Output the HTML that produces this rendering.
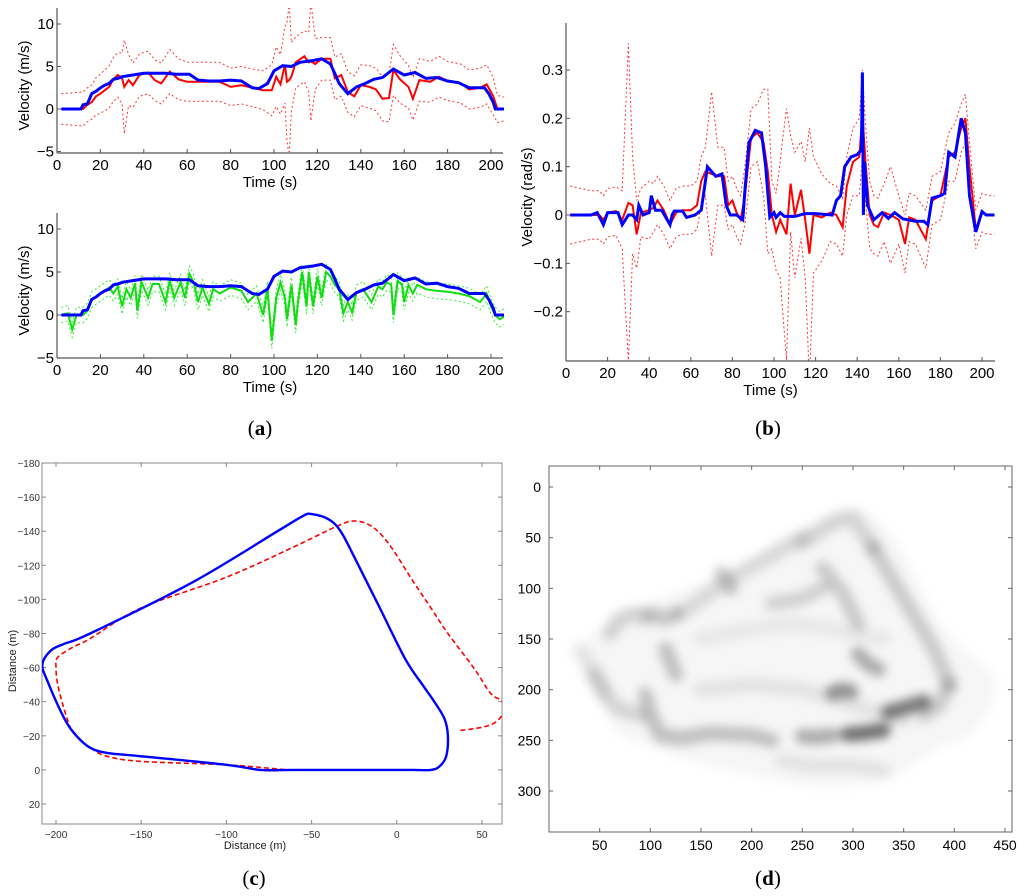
<!DOCTYPE html>
<html><head><meta charset="utf-8">
<style>
body{margin:0;background:#fff;}
svg{display:block;font-family:"Liberation Sans",sans-serif;}
.cap{font-family:"Liberation Serif",serif;font-size:21px;}
</style></head>
<body>
<svg id="fig" width="1024" height="896" viewBox="0 0 1024 896" xmlns="http://www.w3.org/2000/svg">
<defs>
<filter id="blur" x="-20%" y="-20%" width="140%" height="140%"><feGaussianBlur stdDeviation="5"/></filter>
<clipPath id="clipA1"><rect x="57" y="8" width="447" height="144"/></clipPath>
<clipPath id="clipA2"><rect x="57" y="213" width="447" height="145"/></clipPath>
<clipPath id="clipB"><rect x="566" y="23" width="430" height="338"/></clipPath>
<clipPath id="clipC"><rect x="42" y="463" width="460" height="361"/></clipPath>
<clipPath id="clipD"><rect x="549" y="466" width="463" height="366"/></clipPath>
</defs>
<g id="root"></g>
<text class="cap" x="260" y="435" text-anchor="middle">(<tspan font-weight="bold">a</tspan>)</text>
<text class="cap" x="768" y="435" text-anchor="middle">(<tspan font-weight="bold">b</tspan>)</text>
<text class="cap" x="254" y="885" text-anchor="middle">(<tspan font-weight="bold">c</tspan>)</text>
<text class="cap" x="768" y="885" text-anchor="middle">(<tspan font-weight="bold">d</tspan>)</text>
</svg>
<script>
// ---------- Panel (a) top: speed estimate vs ground truth ----------
const aTopTime = [2,12,14,16,18,20,22,24,26,28,30,31,33,35,38,42,45,48,52,56,60,65,70,75,80,85,90,95,99,101,103,105,106,107,108,110,114,116,117,119,122,126,128,131,134,137,140,144,147,150,153,155,158,162,164,167,172,176,180,186,190,195,198,201,203,206];
const aTopRed  = [0,0,0.5,0.8,1.5,1.8,2.2,2.6,3.5,4.0,3.6,2.6,3.4,2.8,4.0,4.3,3.4,3.0,4.4,3.5,3.2,3.2,3.2,3.2,2.6,2.8,2.5,2.2,2.2,3.8,2.9,5.2,3.2,3.4,3.8,5.5,6.2,5.5,5.6,5.3,5.9,5.9,3.6,4.0,2.0,1.5,2.8,2.6,2.3,1.2,1.3,4.6,3.5,2.6,1.2,3.4,3.2,3.8,3.3,3.0,2.3,2.5,2.9,1.5,0,0];
const aTopSigma= [1.8,2.0,2.0,2.0,2.2,2.3,2.4,2.5,2.6,2.6,3.0,5.5,3.0,2.6,2.5,2.5,2.4,2.4,2.6,2.4,2.3,2.3,2.3,2.3,2.2,2.2,2.2,2.3,3.0,3.5,3.5,4.5,7.0,9.0,4.0,3.0,3.0,3.5,7.0,3.0,2.5,2.5,2.5,2.5,2.4,2.4,2.4,2.5,2.5,2.6,2.8,3.0,2.8,2.5,2.5,2.5,2.4,2.4,2.3,2.3,2.3,2.3,2.3,2.2,1.6,1.4];
const blueTime = [2,11,12,14,16,18,20,22,24,26,28,30,35,40,50,55,61,65,70,75,80,85,88,90,93,97,100,104,108,112,118,122,126,128,130,134,138,142,146,150,155,160,165,170,175,180,185,190,197,199,201,202,206];
const blueVel  = [0,0,0.5,0.6,1.8,2.1,2.5,2.8,3.0,3.5,3.6,3.8,4.0,4.2,4.2,4.1,4.1,3.4,3.3,3.3,3.4,3.3,2.8,2.5,2.4,3.0,4.5,5.1,5.0,5.5,5.7,5.9,5.3,4.2,3.0,1.8,2.6,3.0,3.5,3.7,4.7,4.0,4.3,3.6,3.7,3.3,3.1,2.5,2.5,1.8,0.8,0,0];
// ---------- Panel (a) bottom ----------
const aBotTime = [2,5,7,9,12,14,16,20,24,26,28,30,32,34,36,37,39,42,44,47,50,52,54,57,59,61,63,65,67,70,72,75,80,85,88,92,95,97,99,101,103,105,106,108,110,111,113,115,116,118,120,122,124,126,128,130,132,134,136,138,141,145,148,150,152,154,155,157,159,160,162,164,166,170,175,180,185,190,195,198,200,202,204,206];
const aBotGreen= [0,0.2,-1.7,0,0,0.5,1.8,2.5,3.2,2.5,3.3,1.0,3.0,2.0,3.7,0.5,3.8,2.0,3.6,3.6,1.5,4.0,2.0,3.8,2.0,4.8,3.8,1.5,3.2,1.3,3.0,2.5,3.2,2.8,1.5,2.5,0,3.0,-3.0,2.0,3.8,2.0,-0.5,3.5,-1.2,1.5,5.0,1.0,5.0,1.0,4.5,2.0,5.0,4.5,3.5,3.0,0.2,1.5,0.3,2.6,3.0,1.5,3.3,3.0,3.8,3.5,0,4.0,3.5,1.5,3.5,2.5,3.5,3.0,2.8,2.7,2.5,2.2,1.5,2.5,1.0,0,-0.5,-0.2];
const aBotSigma= 0.9;
// ---------- Panel (b): angular velocity ----------
const bBlueTime = [2,12,15,18,20,25,27,30,32,34,35,37,40,41,43,46,50,51,52,56,58,62,65,67,68,70,72,75,77,79,82,85,86,88,91,94,96,98,100,101,103,105,110,115,120,128,130,132,134,137,140,142,142.5,143,143.5,145,148,152,155,158,162,168,172,174,176,180,182,184,187,190,192,194,197,200,202,206];
const bBlue = [0,0,0.005,-0.02,0.005,0.005,-0.02,0,0,-0.01,0.02,0,0.005,0.04,0.01,0.01,-0.02,0,0.008,0.008,-0.005,0,0.01,0.07,0.1,0.09,0.08,0.085,0.02,0,0,-0.01,0.05,0.15,0.175,0.17,0.1,-0.005,0.005,-0.005,0.005,-0.003,-0.003,0.003,0.003,0,0.03,0.04,0.1,0.12,0.125,0.135,0.295,0,0.11,0.02,-0.01,0.005,-0.007,0.005,-0.008,-0.013,-0.013,-0.02,0.035,0.04,0.045,0.13,0.12,0.2,0.17,0.04,-0.035,0.007,0,0];
const bRedTime = [2,12,16,18,20,24,27,30,32,34,36,40,42,44,47,50,53,56,60,63,65,67,70,73,76,78,80,82,84,86,89,92,95,97,99,101,103,104,106,108,110,113,115,117,119,123,127,130,133,135,138,141,142.5,144,146,148,150,153,156,160,163,165,168,173,176,180,184,187,190,192,194,197,200,203,206];
const bRed = [0,0,0,-0.01,0.005,0.008,-0.01,0.025,0.02,-0.04,0.005,0.01,0.015,0.03,0.01,-0.02,0.005,0.01,0.01,0.02,0.07,0.09,0.085,0.08,0.08,0.02,0.03,0.005,-0.01,0.04,0.16,0.17,0.15,0.09,0,-0.035,-0.01,-0.02,-0.04,0.065,0,0.052,-0.01,-0.08,0,-0.005,0.005,0,-0.025,0.06,0.11,0.12,0.21,0.11,0,-0.02,-0.025,0.005,0,-0.01,-0.06,-0.005,-0.01,-0.05,0.03,0.04,0.12,0.13,0.18,0.2,0.1,-0.03,0.005,0,0];
const bSigma = [0.06,0.05,0.05,0.05,0.05,0.05,0.06,0.33,0.1,0.07,0.05,0.06,0.05,0.05,0.05,0.05,0.05,0.05,0.05,0.05,0.05,0.05,0.17,0.06,0.06,0.05,0.05,0.05,0.05,0.06,0.06,0.06,0.11,0.17,0.07,0.08,0.12,0.17,0.26,0.1,0.13,0.1,0.12,0.26,0.12,0.09,0.06,0.06,0.06,0.06,0.07,0.08,0.09,0.08,0.07,0.06,0.06,0.06,0.1,0.05,0.06,0.05,0.05,0.06,0.05,0.05,0.05,0.06,0.05,0.05,0.05,0.04,0.04,0.04,0.04];
// ---------- Panel (c): trajectories (x,y) in metres ----------
const cBlueX = [0,10,20,25,29,30,28,22,15,5,-10,-25,-33,-40,-50,-55,-70,-120,-180,-195,-203,-208,-205,-195,-188,-180,-170,-150,-100,-80,-60,-20,0];
const cBlueY = [0,0,0,-2,-8,-20,-30,-40,-50,-65,-95,-125,-140,-147,-150,-149,-140,-110,-80,-74,-70,-62,-52,-30,-20,-13,-10,-8,-3,0,0,0,0];
const cRedX = [0,-20,-60,-75,-100,-150,-170,-180,-190,-195,-199,-200,-199,-190,-180,-150,-100,-60,-35,-25,-15,-5,10,20,30,45,55,62,62,58,50,36];
const cRedY = [0,0,0,-1,-3,-5,-8,-13,-22,-35,-50,-60,-66,-72,-77,-95,-113,-131,-143,-146,-143,-133,-110,-95,-80,-60,-45,-40,-33,-28,-25,-23];
// ---------- Panel (d): occupancy map strokes (map units) ----------
const dStrokes = [
 {xs:[95,100,110,130,160,200,220], ys:[205,225,245,248,243,245,250], a:0.22},
 {xs:[250,265,280], ys:[246,247,245], a:0.3},
 {xs:[295,310,330], ys:[244,243,240], a:0.55},
 {xs:[335,350,370], ys:[222,218,212], a:0.5},
 {xs:[280,290,298], ys:[203,200,202], a:0.4},
 {xs:[305,315,325], ys:[165,175,180], a:0.3},
 {xs:[60,70,85,95], ys:[145,130,125,130], a:0.15},
 {xs:[45,55,70,90], ys:[185,205,220,225], a:0.14},
 {xs:[100,115,125], ys:[125,130,125], a:0.2},
 {xs:[115,125], ys:[160,185], a:0.22},
 {xs:[130,180,250], ys:[125,90,50], a:0.12},
 {xs:[250,280,300,320], ys:[55,35,30,60], a:0.14},
 {xs:[320,350,380,395], ys:[60,110,160,195], a:0.18},
 {xs:[270,290,305], ys:[80,105,135], a:0.18},
 {xs:[220,250,270], ys:[115,110,100], a:0.15},
 {xs:[170,180], ys:[85,100], a:0.18},
 {xs:[395,385,370], ys:[195,215,225], a:0.18},
 {xs:[150,200,250,300,350], ys:[200,195,200,215,230], a:0.08},
 {xs:[230,260,300,330], ys:[270,275,275,280], a:0.08},
 {xs:[30,40,55], ys:[160,175,200], a:0.08},
 {xs:[150,200,240,280,330], ys:[150,140,135,140,150], a:0.06}
];
const dCloudX = [30,60,110,180,250,300,340,390,440,420,380,330,260,180,110,60];
const dCloudY = [180,130,110,80,40,20,50,140,190,240,260,290,295,280,260,230];

const NS='http://www.w3.org/2000/svg';
const root=document.getElementById('root');
function mk(tag,attrs,parent){const e=document.createElementNS(NS,tag);for(const k in attrs)e.setAttribute(k,attrs[k]);(parent||root).appendChild(e);return e;}
function lin(d0,d1,p0,p1){return v=>p0+(v-d0)*(p1-p0)/(d1-d0);}
function pathD(xs,ys,sx,sy){return xs.map((v,i)=>(i?'L':'M')+sx(v).toFixed(1)+' '+sy(ys[i]).toFixed(1)).join('');}
function smoothD(xs,ys,sx,sy,closed){
  const P=xs.map((v,i)=>[sx(v),sy(ys[i])]);const n=P.length;
  let d='M'+P[0][0].toFixed(1)+' '+P[0][1].toFixed(1);
  for(let i=0;i<n-1;i++){
    const p0=P[i-1]||(closed?P[n-2]:P[i]),p1=P[i],p2=P[i+1],p3=P[i+2]||(closed?P[1]:p2);
    const c1=[p1[0]+(p2[0]-p0[0])/6,p1[1]+(p2[1]-p0[1])/6],c2=[p2[0]-(p3[0]-p1[0])/6,p2[1]-(p3[1]-p1[1])/6];
    d+='C'+c1[0].toFixed(1)+' '+c1[1].toFixed(1)+' '+c2[0].toFixed(1)+' '+c2[1].toFixed(1)+' '+p2[0].toFixed(1)+' '+p2[1].toFixed(1);
  }
  return d+(closed?'Z':'');
}
function txt(x,y,s,size,anchor,parent,fill){const t=mk('text',{x:x,y:y,'font-size':size,'text-anchor':anchor||'middle',fill:fill||'#000'},parent);t.textContent=s;return t;}

function velAxes(g,sx,sy,x0,x1,yTop,yBot,xticks,yticks,yfmt,ylabel,ylabX){
  mk('line',{x1:x0,y1:yTop,x2:x0,y2:yBot,stroke:'#555','stroke-width':1.2},g);
  mk('line',{x1:x0,y1:yBot,x2:x1,y2:yBot,stroke:'#555','stroke-width':1.2},g);
  xticks.forEach(v=>{const x=sx(v);mk('line',{x1:x,y1:yBot,x2:x,y2:yBot-4,stroke:'#555'},g);
    const t=txt(x,yBot+17,String(v),15,'middle',g);
    
    });
  yticks.forEach(v=>{const y=sy(v);mk('line',{x1:x0,y1:y,x2:x0+4,y2:y,stroke:'#555'},g);
    const t=txt(x0-3,y+5,yfmt(v),15,'end',g);
    
    });
  const xl=txt((x0+x1)/2-10,yBot+34,'Time (s)',15,'middle',g);
  
  
  const yl=txt(0,0,ylabel,15,'middle',g);
  yl.setAttribute('transform','translate('+ylabX+','+((yTop+yBot)/2+5)+') rotate(-90)');
  
  
}
function minus(v){return String(v).replace('-','\u2212');}

// Panel a top
{
 const g=mk('g',{});
 const sx=lin(0,200,57,491), sy=lin(0,10,109,24);
 const pg=mk('g',{'clip-path':'url(#clipA1)'},g);
 const up=mk('path',{d:pathD(aTopTime,aTopRed.map((v,i)=>v+aTopSigma[i]),sx,sy),fill:'none',stroke:'#f33','stroke-width':1,'stroke-dasharray':'2,2.5'},pg);
 
 const lo=mk('path',{d:pathD(aTopTime,aTopRed.map((v,i)=>v-aTopSigma[i]),sx,sy),fill:'none',stroke:'#f33','stroke-width':1,'stroke-dasharray':'2,2.5'},pg);
 
 const r=mk('path',{d:pathD(aTopTime,aTopRed,sx,sy),fill:'none',stroke:'#f00','stroke-width':2},pg);
 
 const b=mk('path',{d:pathD(blueTime,blueVel,sx,sy),fill:'none',stroke:'#00f','stroke-width':3},pg);
 
 velAxes(g,sx,sy,57,503,8,153,[0,20,40,60,80,100,120,140,160,180,200],[-5,0,5,10],minus,'Velocity (m/s)',29);
}
// Panel a bottom
{
 const g=mk('g',{});
 const sx=lin(0,200,57,491), sy=lin(0,10,315,229);
 const pg=mk('g',{'clip-path':'url(#clipA2)'},g);
 const up=mk('path',{d:pathD(aBotTime,aBotGreen.map(v=>v+aBotSigma),sx,sy),fill:'none',stroke:'#3e3','stroke-width':1,'stroke-dasharray':'2,2.5'},pg);
 
 const lo=mk('path',{d:pathD(aBotTime,aBotGreen.map(v=>v-aBotSigma),sx,sy),fill:'none',stroke:'#3e3','stroke-width':1,'stroke-dasharray':'2,2.5'},pg);
 
 const gr=mk('path',{d:pathD(aBotTime,aBotGreen,sx,sy),fill:'none',stroke:'#1d1','stroke-width':2},pg);
 
 const b=mk('path',{d:pathD(blueTime,blueVel,sx,sy),fill:'none',stroke:'#00f','stroke-width':3},pg);
 
 velAxes(g,sx,sy,57,503,213,358,[0,20,40,60,80,100,120,140,160,180,200],[-5,0,5,10],minus,'Velocity (m/s)',29);
}
// Panel b
{
 const g=mk('g',{});
 const sx=lin(0,200,566,982), sy=lin(0,0.3,215,70);
 const pg=mk('g',{'clip-path':'url(#clipB)'},g);
 const up=mk('path',{d:pathD(bRedTime,bRed.map((v,i)=>v+bSigma[i]),sx,sy),fill:'none',stroke:'#f33','stroke-width':1,'stroke-dasharray':'2,2.5'},pg);
 
 const lo=mk('path',{d:pathD(bRedTime,bRed.map((v,i)=>v-bSigma[i]),sx,sy),fill:'none',stroke:'#f33','stroke-width':1,'stroke-dasharray':'2,2.5'},pg);
 
 const r=mk('path',{d:pathD(bRedTime,bRed,sx,sy),fill:'none',stroke:'#f00','stroke-width':2},pg);
 
 const b=mk('path',{d:pathD(bBlueTime,bBlue,sx,sy),fill:'none',stroke:'#00f','stroke-width':3},pg);
 
 velAxes(g,sx,sy,566,995,23,361,[0,20,40,60,80,100,120,140,160,180,200],[-0.2,-0.1,0,0.1,0.2,0.3],v=>minus(v),'Velocity (rad/s)',532);
}
// Panel c
{
 const g=mk('g',{});
 const sx=lin(-200,50,56,482), sy=lin(-180,20,463,804);
 mk('rect',{x:42,y:463,width:460,height:361,fill:'none',stroke:'#888','stroke-width':1},g);
 [-200,-150,-100,-50,0,50].forEach(v=>{const x=sx(v);
   mk('line',{x1:x,y1:824,x2:x,y2:820,stroke:'#888'},g);mk('line',{x1:x,y1:463,x2:x,y2:467,stroke:'#888'},g);
   const t=txt(x,838,minus(v),10,'middle',g,'#333');
   });
 [-180,-160,-140,-120,-100,-80,-60,-40,-20,0,20].forEach(v=>{const y=sy(v);
   mk('line',{x1:42,y1:y,x2:46,y2:y,stroke:'#888'},g);mk('line',{x1:502,y1:y,x2:498,y2:y,stroke:'#888'},g);
   const t=txt(40,y+4,minus(v),10,'end',g,'#333');
   });
 const xl=txt(255,849,'Distance (m)',11,'middle',g,'#222');
 
 const yl=txt(0,0,'Distance (m)',11,'middle',g,'#222');
 yl.setAttribute('transform','translate(16,661) rotate(-90)');
 
 const pg=mk('g',{'clip-path':'url(#clipC)'},g);
 const r=mk('path',{d:smoothD(cRedX,cRedY,sx,sy,false),fill:'none',stroke:'#f00','stroke-width':1.6,'stroke-dasharray':'5,3','stroke-linejoin':'round'},pg);
 
 const b=mk('path',{d:smoothD(cBlueX,cBlueY,sx,sy,true),fill:'none',stroke:'#00f','stroke-width':2.4,'stroke-linejoin':'round'},pg);
 
}
// Panel d
{
 const g=mk('g',{});
 const sx=lin(0,450,549,1005), sy=lin(0,300,487,791);
 const pg=mk('g',{'clip-path':'url(#clipD)',filter:'url(#blur)'},g);
 const cl=mk('path',{d:smoothD(dCloudX,dCloudY,sx,sy,true),fill:'#000','fill-opacity':0.035},pg);
 
 dStrokes.forEach(s=>{
   const p=mk('path',{d:pathD(s.xs,s.ys,sx,sy),fill:'none',stroke:'#000','stroke-opacity':s.a,'stroke-width':15,'stroke-linecap':'round','stroke-linejoin':'round'},pg);
   
   
 });
 mk('rect',{x:549,y:466,width:463,height:366,fill:'none',stroke:'#666','stroke-width':1},g);
 [50,100,150,200,250,300,350,400,450].forEach(v=>{const x=sx(v);
   mk('line',{x1:x,y1:832,x2:x,y2:828,stroke:'#666'},g);mk('line',{x1:x,y1:466,x2:x,y2:470,stroke:'#666'},g);
   const t=txt(x,850,String(v),14,'middle',g);
   });
 [0,50,100,150,200,250,300].forEach(v=>{const y=sy(v);
   mk('line',{x1:549,y1:y,x2:553,y2:y,stroke:'#666'},g);mk('line',{x1:1012,y1:y,x2:1008,y2:y,stroke:'#666'},g);
   const t=txt(541,y+5,String(v),14,'end',g);
   });
}
</script>
</body></html>
